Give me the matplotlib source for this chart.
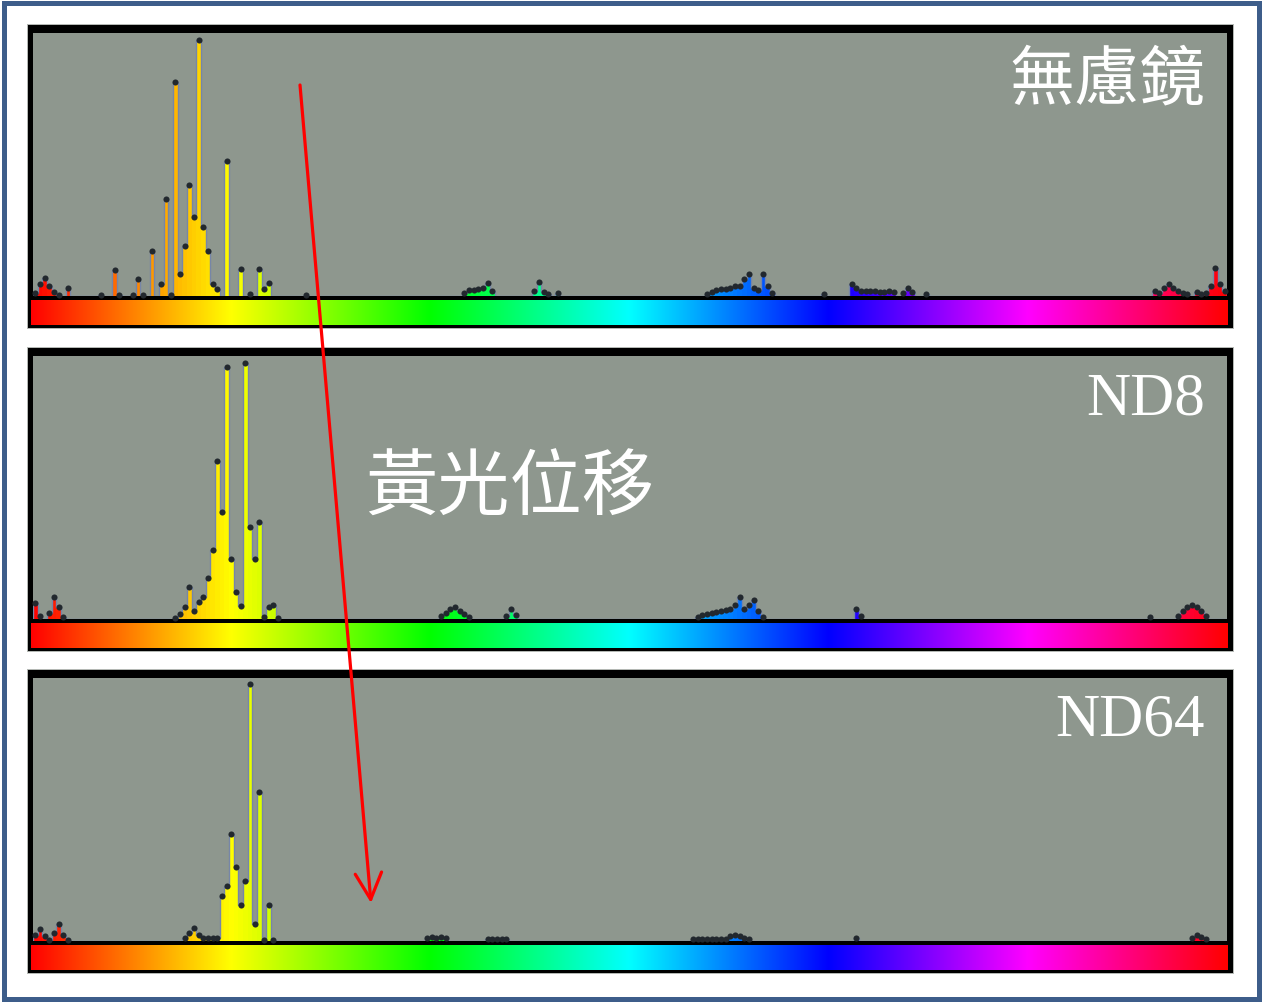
import numpy as np
import matplotlib
matplotlib.use('Agg')
import matplotlib.pyplot as plt
from matplotlib.colors import hsv_to_rgb
from matplotlib.patches import Rectangle

W, H = 1262, 1002
N_BINS = 256

panel_labels = ['無慮鏡', 'ND8', 'ND64']
shift_label = '黃光位移'

# ---- hue histogram data (bin index 0..255 over hue 0..360) ----
p1_bins = [0, 1, 2, 3, 4, 5, 7, 14, 17, 18, 21, 22, 23, 25, 27, 28, 29, 30, 31, 32, 33, 34, 35, 36, 37, 38, 39, 41, 44, 46, 48, 49, 50, 58,
           92, 93, 94, 95, 96, 97, 98, 107, 108, 109, 110, 112,
           144, 145, 146, 147, 148, 149, 150, 151, 152, 153, 154, 155, 156, 157, 158,
           169, 175, 176, 177, 178, 179, 180, 181, 182, 183, 184, 186, 187, 188, 191,
           240, 241, 242, 243, 244, 245, 246, 247, 249, 250, 251, 252, 253, 254, 255]
p1_vals = [3, 12, 18, 10, 4, 1, 8, 1, 26, 1, 1, 17, 1, 45, 12, 97, 1, 214, 22, 50, 111, 79, 256, 69, 45, 12, 7, 135, 27, 2, 27, 7, 13, 1,
           3, 6, 6, 7, 8, 13, 5, 5, 14, 4, 2, 3,
           2, 4, 6, 7, 7, 8, 10, 10, 17, 22, 8, 6, 22, 10, 3,
           2, 12, 8, 5, 5, 5, 5, 4, 4, 5, 4, 3, 8, 4, 2,
           5, 3, 8, 12, 8, 5, 3, 2, 4, 2, 3, 10, 28, 12, 5]

p2_bins = [0, 1, 3, 4, 5, 6,
           30, 31, 32, 33, 34, 35, 36, 37, 38, 39, 40, 41, 42, 43, 44, 45, 46, 47, 48, 49, 50, 51, 52,
           87, 88, 89, 90, 91, 92, 93, 101, 102, 103,
           142, 143, 144, 145, 146, 147, 148, 149, 150, 151, 152, 153, 154, 155, 156,
           176, 177,
           239, 245, 246, 247, 248, 249, 250, 251]
p2_vals = [16, 3, 6, 22, 12, 2,
           1, 5, 12, 32, 8, 17, 22, 41, 69, 158, 107, 252, 60, 27, 13, 256, 92, 60, 97, 2, 12, 14, 1,
           3, 6, 10, 12, 8, 5, 2, 3, 10, 4,
           2, 4, 5, 6, 7, 8, 9, 10, 14, 22, 10, 14, 19, 8, 2,
           10, 3,
           2, 3, 8, 12, 14, 12, 8, 3]

p3_bins = [0, 1, 2, 3, 4, 5, 6, 7,
           32, 33, 34, 35, 36, 37, 38, 39, 40, 41, 42, 43, 44, 45, 46, 47, 48, 49, 50, 51,
           84, 85, 86, 87, 88, 97, 98, 99, 100, 101,
           141, 142, 143, 144, 145, 146, 147, 148, 149, 150, 151, 152, 153,
           176,
           248, 249, 250, 251]
p3_vals = [6, 12, 5, 1, 8, 17, 6, 1,
           3, 8, 13, 6, 3, 3, 3, 3, 45, 55, 107, 74, 36, 60, 257, 17, 149, 1, 36, 1,
           3, 4, 3, 4, 3, 2, 2, 2, 2, 2,
           2, 2, 2, 2, 2, 2, 2, 2, 5, 6, 5, 3, 2,
           3,
           3, 6, 4, 2]

panels = [(p1_bins, p1_vals), (p2_bins, p2_vals), (p3_bins, p3_vals)]

# ---- layout (pixels) ----
panel_tops = [25, 348, 670]
X0, X1 = 33, 1227
GRAY = '#8e978e'

fig = plt.figure(figsize=(W / 100, H / 100), dpi=100)
fig.patch.set_facecolor('white')

bg = fig.add_axes([0, 0, 1, 1], zorder=0)
bg.set_xlim(0, W)
bg.set_ylim(H, 0)
bg.axis('off')
bg.add_patch(Rectangle((3.5, 2.5), W - 7, H - 5.5, fill=False,
                       edgecolor='#3d5d8a', lw=3.6))


def fx(x):
    return x / W


def fy(y):
    return 1 - y / H


for k, T in enumerate(panel_tops):
    bg.add_patch(Rectangle((27, T - 1), 1207, 305, facecolor='#b4b8b4', edgecolor='none'))
    bg.add_patch(Rectangle((28, T), 1205, 303, facecolor='black', edgecolor='none'))

    ax = fig.add_axes([fx(X0), fy(T + 271), fx(X1 - X0), 263 / H], zorder=1)
    ax.set_facecolor(GRAY)
    ax.set_xlim(0, N_BINS)
    ax.set_ylim(0, 263)
    ax.set_xticks([])
    ax.set_yticks([])
    for s in ax.spines.values():
        s.set_visible(False)

    bins, vals = panels[k]
    idx = np.array(bins, dtype=float)
    v = np.array(vals, dtype=float)
    hsv = np.stack([(idx + 0.5) / N_BINS, np.ones_like(idx), np.ones_like(idx)], axis=1)
    cols = hsv_to_rgb(hsv)
    ax.bar(idx + 0.5, v, width=1.0, color=cols, edgecolor='none', zorder=2)
    full = np.zeros(N_BINS)
    full[np.array(bins)] = v
    ax.stairs(full, np.arange(N_BINS + 1), color='#7686a8', lw=1.0, zorder=3)
    ax.plot(idx + 0.5, v, 'o', ms=4.4, color='#22282e', mec='none', zorder=4, clip_on=False)

    # hue colour bar
    cax = fig.add_axes([fx(X0 - 2), fy(T + 300), fx(X1 - X0 + 3), 25 / H], zorder=1)
    hue = np.linspace(0, 1, 720)
    grad = hsv_to_rgb(np.stack([hue, np.ones_like(hue), np.ones_like(hue)], axis=1))[None, :, :]
    cax.imshow(grad, aspect='auto', extent=(0, 1, 0, 1), interpolation='bilinear')
    cax.set_xticks([])
    cax.set_yticks([])
    for s in cax.spines.values():
        s.set_visible(False)

# ---- labels ----
cjk = ['Noto Sans CJK TC', 'DejaVu Sans']
latin = ['Liberation Serif', 'DejaVu Serif']
fig.text(fx(1205), fy(81), panel_labels[0], ha='right', va='center', color='white',
         fontsize=47, family=cjk, zorder=6)
fig.text(fx(1205), fy(400), panel_labels[1], ha='right', va='center', color='white',
         fontsize=44, family=latin, zorder=6)
fig.text(fx(1205), fy(721), panel_labels[2], ha='right', va='center', color='white',
         fontsize=44, family=latin, zorder=6)
fig.text(fx(365), fy(489), shift_label, ha='left', va='center', color='white',
         fontsize=52, family=cjk, zorder=6)

# ---- arrow ----
ov = fig.add_axes([0, 0, 1, 1], zorder=5)
ov.set_xlim(0, W)
ov.set_ylim(H, 0)
ov.axis('off')
ov.patch.set_alpha(0)
ov.annotate('', xy=(371, 903), xytext=(300, 85),
            arrowprops=dict(arrowstyle='->,head_length=1.9,head_width=0.95',
                            color='#ff0000', lw=2.3, shrinkA=0, shrinkB=0,
                            mutation_scale=10))

fig.savefig('out.png', dpi=100, facecolor='white')
